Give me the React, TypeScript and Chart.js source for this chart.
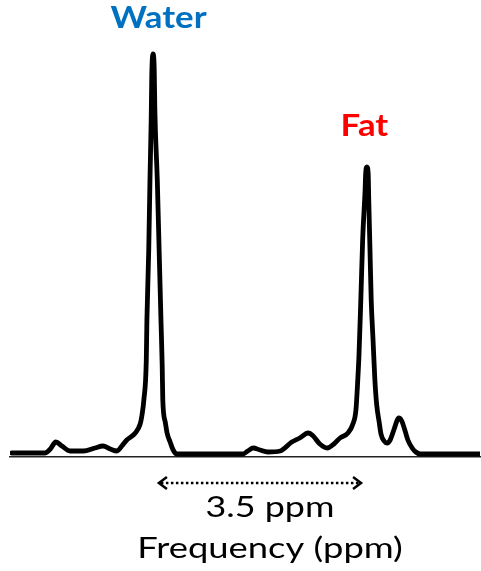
import React, { useEffect, useRef } from "react";
import { Chart, registerables } from "chart.js";

Chart.register(...registerables);

// Chemical shift (ppm) along the spectrum, left (high ppm) to right (low ppm)
const ppm: number[] = [
  7.01, 6.47, 6.38, 6.29, 6.19, 6.06, 5.84, 5.65, 5.52, 5.4, 5.29, 5.21, 5.13,
  4.99, 4.91, 4.88, 4.85, 4.81, 4.8, 4.77, 4.75, 4.73, 4.72, 4.7, 4.68, 4.67,
  4.63, 4.6, 4.57, 4.55, 4.54, 4.5, 4.47, 4.42, 4.37, 4.31, 3.23, 3.15, 3.06,
  2.95, 2.82, 2.62, 2.43, 2.3, 2.16, 2.08, 1.97, 1.85, 1.74, 1.64, 1.51, 1.43,
  1.38, 1.35, 1.33, 1.3, 1.27, 1.23, 1.22, 1.2, 1.18, 1.17, 1.15, 1.13, 1.1,
  1.07, 1.04, 1.0, 0.97, 0.92, 0.87, 0.82, 0.76, 0.71, 0.68, 0.63, 0.58, 0.53,
  0.46, 0.4, 0.33, -0.65,
];

// Signal intensity (water peak = 100)
const intensity: number[] = [
  0.25, 0.25, 1.25, 3, 2, 0.75, 0.75, 1.5, 2, 1.25, 0.75, 2, 3.5, 5.25, 7.5,
  9.75, 13.5, 23.5, 33.5, 51, 68.5, 83.5, 94.75, 100, 96, 86, 68.5, 51, 33.5,
  22.25, 13.5, 8, 5.25, 3, 1, 0, 0, 0.75, 1.5, 1, 0.5, 0.75, 3, 4, 5.25, 4.5,
  2.5, 1.5, 2.5, 4, 5.25, 7.5, 11, 18.5, 24.75, 38.5, 53.5, 66, 70.25, 71.75,
  70.25, 63.5, 51, 38.5, 28.5, 18.5, 12.25, 8, 5, 3.25, 2.75, 3.5, 6, 8.25, 9,
  8.25, 6, 3.5, 1.5, 0.5, 0, 0,
];

const peakLabels: string[] = ["Water", "Fat"];
const peakPpm: number[] = [4.7, 1.2];
const peakColors: string[] = ["#0070C0", "#FF0000"];
const separationLabel = "3.5 ppm";
const arrowPpm: number[] = [4.62, 1.28];
const axisTitle = "Frequency (ppm)";

const FONT = "Lato, 'Open Sans', sans-serif";

function stretchedText(ctx: any, text: string, x: number, y: number, sx: number) {
  ctx.save();
  ctx.translate(x, y);
  ctx.scale(sx, 1);
  ctx.fillText(text, 0, 0);
  ctx.restore();
}

const annotations = {
  id: "annotations",
  afterDraw(chart: any) {
    const { ctx, scales } = chart;
    const xs = scales.x;
    const area = chart.chartArea;
    ctx.save();
    // Peak labels
    ctx.textAlign = "center";
    ctx.textBaseline = "alphabetic";
    ctx.font = `bold 30px ${FONT}`;
    const labelOffsets = [5.5, -2.5];
    const labelBaselines = [28, 136];
    peakLabels.forEach((t, i) => {
      ctx.fillStyle = peakColors[i];
      stretchedText(ctx, t, xs.getPixelForValue(peakPpm[i]) + labelOffsets[i], labelBaselines[i], 1.16);
    });
    // Dotted double arrow
    const x1 = xs.getPixelForValue(arrowPpm[0]);
    const x2 = xs.getPixelForValue(arrowPpm[1]);
    const ay = area.bottom + 26;
    ctx.strokeStyle = "#000";
    ctx.lineWidth = 2.5;
    ctx.setLineDash([2.5, 2.5]);
    ctx.beginPath();
    ctx.moveTo(x1 + 3, ay);
    ctx.lineTo(x2 - 3, ay);
    ctx.stroke();
    ctx.setLineDash([]);
    ctx.lineWidth = 2.5;
    ctx.lineJoin = "miter";
    ctx.beginPath();
    ctx.moveTo(x1 + 9, ay - 6);
    ctx.lineTo(x1 + 1, ay);
    ctx.lineTo(x1 + 9, ay + 6);
    ctx.moveTo(x2 - 9, ay - 6);
    ctx.lineTo(x2 - 1, ay);
    ctx.lineTo(x2 - 9, ay + 6);
    ctx.stroke();
    // Texts
    const cx = (x1 + x2) / 2 + 10;
    ctx.fillStyle = "#000";
    ctx.font = `28px ${FONT}`;
    stretchedText(ctx, separationLabel, cx, area.bottom + 60, 1.28);
    stretchedText(ctx, axisTitle, cx, area.bottom + 101, 1.3);
    ctx.restore();
  },
};

export default function App() {
  const ref = useRef<HTMLCanvasElement | null>(null);
  useEffect(() => {
    if (!ref.current) return;
    const points = ppm.map((p, i) => ({ x: p, y: intensity[i] }));
    const chart = new Chart(ref.current, {
      type: "scatter",
      data: {
        datasets: [
          {
            data: points,
            showLine: true,
            borderColor: "#000",
            borderWidth: 4.8,
            pointRadius: 0,
            cubicInterpolationMode: "monotone",
            borderJoinStyle: "round",
            borderCapStyle: "round",
          } as any,
        ],
      },
      options: {
        animation: false,
        responsive: false,
        layout: { padding: { left: 10, right: 1, top: 10, bottom: 114 } },
        plugins: { legend: { display: false }, tooltip: { enabled: false } },
        scales: {
          x: {
            type: "linear",
            reverse: true,
            min: -0.65,
            max: 7.04,
            ticks: { display: false },
            grid: { display: false, drawTicks: false },
            border: { display: true, color: "#222", width: 1.5 },
          },
          y: {
            display: false,
            min: -0.75,
            max: 111,
          },
        },
      },
      plugins: [annotations],
    });
    return () => chart.destroy();
  }, []);
  return (
    <div style={{ position: "fixed", left: 0, top: 0, width: 481, height: 571, background: "#fff" }}>
      <canvas ref={ref} width={481} height={571} />
    </div>
  );
}
